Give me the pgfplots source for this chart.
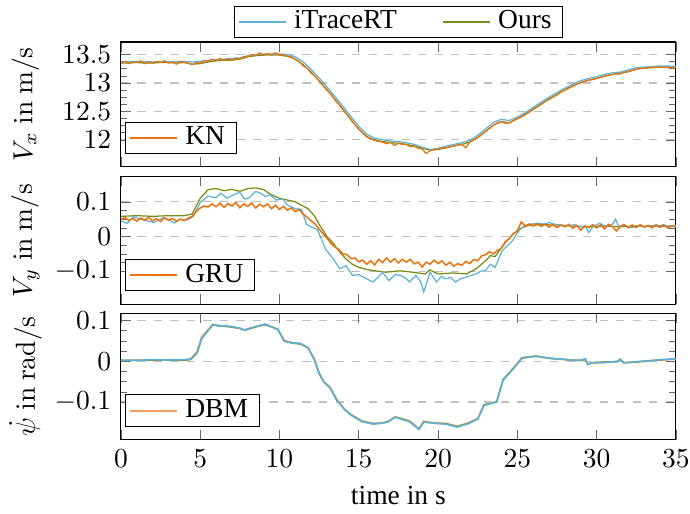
\documentclass[border=0pt]{standalone}
\usepackage[no-math]{fontspec}
\setmainfont{Liberation Serif}
\usepackage{pgfplots}
\pgfplotsset{compat=1.18}
\usepackage{pgfplotstable}

\definecolor{itrc}{RGB}{94,178,216}
\definecolor{oursc}{RGB}{122,140,22}
\definecolor{knc}{RGB}{234,114,16}
\definecolor{dbmc}{RGB}{240,160,92}

% ---------------- top panel (V_x) ----------------
\pgfplotstableread{
t itr ours
0 13.37 13.35
0.5 13.38 13.35
1 13.38 13.36
1.5 13.38 13.35
2 13.37 13.35
2.5 13.38 13.36
3 13.38 13.36
3.5 13.38 13.35
4 13.38 13.36
4.5 13.37 13.33
5 13.38 13.34
5.5 13.40 13.37
6 13.41 13.39
6.5 13.42 13.40
7 13.43 13.40
7.5 13.44 13.42
8 13.48 13.46
8.5 13.50 13.48
9 13.51 13.49
9.5 13.51 13.49
10 13.51 13.49
10.5 13.50 13.47
11 13.46 13.42
11.5 13.37 13.32
12 13.24 13.19
12.5 13.09 13.04
13 12.93 12.88
13.5 12.76 12.71
14 12.59 12.54
14.5 12.41 12.36
15 12.24 12.19
15.5 12.10 12.06
16 12.03 12.00
16.5 12.00 11.97
17 11.98 11.95
17.5 11.97 11.94
18 11.95 11.92
18.5 11.92 11.89
19 11.87 11.85
19.5 11.83 11.82
20 11.85 11.83
20.5 11.89 11.86
21 11.92 11.89
21.5 11.95 11.92
22 11.99 11.96
22.5 12.08 12.04
23 12.19 12.15
23.5 12.31 12.26
24 12.36 12.32
24.5 12.34 12.30
25 12.40 12.37
25.5 12.48 12.45
26 12.57 12.54
26.5 12.66 12.63
27 12.75 12.72
27.5 12.83 12.80
28 12.91 12.88
28.5 12.98 12.95
29 13.04 13.01
29.5 13.08 13.05
30 13.11 13.08
30.5 13.15 13.12
31 13.18 13.15
31.5 13.19 13.17
32 13.23 13.20
32.5 13.27 13.24
33 13.28 13.26
33.5 13.29 13.27
34 13.30 13.28
34.5 13.30 13.28
35 13.29 13.27
}\vxtab

\pgfplotstableread{
t y
0 13.35
0.25 13.38
0.5 13.34
0.75 13.37
1 13.36
1.25 13.39
1.5 13.34
1.75 13.37
2 13.35
2.25 13.38
2.5 13.36
2.75 13.39
3 13.35
3.25 13.37
3.5 13.33
3.75 13.38
4 13.36
4.25 13.35
4.5 13.32
4.75 13.36
5 13.35
5.25 13.39
5.5 13.38
5.75 13.42
6 13.39
6.25 13.43
6.5 13.40
6.75 13.42
7 13.40
7.25 13.44
7.5 13.42
7.75 13.46
8 13.47
8.25 13.50
8.5 13.48
8.75 13.53
9 13.49
9.25 13.52
9.5 13.49
9.75 13.53
10 13.50
10.25 13.49
10.5 13.47
10.75 13.46
11 13.41
11.25 13.38
11.5 13.30
11.75 13.26
12 13.17
12.25 13.12
12.5 13.03
12.75 12.95
13 12.87
13.25 12.80
13.5 12.70
13.75 12.62
14 12.53
14.25 12.45
14.5 12.35
14.75 12.27
15 12.19
15.25 12.12
15.5 12.05
15.75 12.02
16 11.99
16.25 11.97
16.5 11.96
16.75 11.93
17 11.96
17.25 11.90
17.5 11.94
17.75 11.92
18 11.92
18.25 11.88
18.5 11.89
18.75 11.85
19 11.84
19.25 11.76
19.5 11.81
19.75 11.83
20 11.83
20.25 11.86
20.5 11.86
20.75 11.88
21 11.89
21.25 11.91
21.5 11.92
21.75 11.86
22 11.96
22.25 12.00
22.5 12.04
22.75 12.09
23 12.15
23.25 12.20
23.5 12.26
23.75 12.30
24 12.32
24.25 12.29
24.5 12.30
24.75 12.34
25 12.37
25.25 12.40
25.5 12.44
25.75 12.49
26 12.53
26.25 12.58
26.5 12.62
26.75 12.67
27 12.71
27.25 12.75
27.5 12.79
27.75 12.84
28 12.87
28.25 12.91
28.5 12.94
28.75 12.98
29 13.00
29.25 13.03
29.5 13.05
29.75 13.06
30 13.08
30.25 13.10
30.5 13.12
30.75 13.14
31 13.15
31.25 13.16
31.5 13.16
31.75 13.19
32 13.20
32.25 13.22
32.5 13.24
32.75 13.26
33 13.26
33.25 13.27
33.5 13.27
33.75 13.28
34 13.28
34.25 13.27
34.5 13.28
34.75 13.26
35 13.27
}\kntab

% ---------------- middle panel (V_y) ----------------
\pgfplotstableread{
t y
0 0.045
0.4 0.038
0.8 0.057
1.2 0.050
1.5 0.047
2.1 0.040
2.5 0.050
2.7 0.054
3.1 0.046
3.4 0.039
3.7 0.050
4.0 0.047
4.3 0.050
4.6 0.060
5.0 0.098
5.5 0.116
6.0 0.112
6.3 0.125
6.7 0.110
7.1 0.120
7.5 0.127
7.8 0.108
8.1 0.112
8.5 0.130
8.8 0.125
9.1 0.115
9.4 0.120
9.8 0.105
10.2 0.108
10.5 0.090
11.0 0.080
11.4 0.078
11.7 0.035
12.0 0.028
12.4 0.020
12.9 -0.036
13.4 -0.065
13.8 -0.093
14.2 -0.084
14.6 -0.112
15.0 -0.110
15.5 -0.122
15.9 -0.131
16.2 -0.118
16.5 -0.103
16.9 -0.127
17.3 -0.110
17.6 -0.112
17.9 -0.118
18.2 -0.131
18.6 -0.112
18.9 -0.130
19.1 -0.160
19.5 -0.103
19.9 -0.131
20.2 -0.115
20.5 -0.122
20.8 -0.118
21.1 -0.131
21.5 -0.120
21.8 -0.117
22.1 -0.112
22.4 -0.108
22.7 -0.100
23.0 -0.098
23.3 -0.080
23.6 -0.089
24.05 -0.041
24.4 -0.025
24.7 -0.012
25.0 0.010
25.3 0.026
25.6 0.033
25.9 0.036
26.3 0.038
26.7 0.036
27.0 0.040
27.4 0.035
27.8 0.033
28.2 0.030
28.6 0.034
29.0 0.028
29.3 0.030
29.5 0.011
29.8 0.030
30.2 0.038
30.6 0.028
31.0 0.035
31.2 0.050
31.4 0.028
31.8 0.032
32.2 0.026
32.6 0.030
33.0 0.028
33.4 0.032
33.8 0.030
34.2 0.034
34.6 0.028
35 0.032
}\vyitr

\pgfplotstableread{
t y
0 0.058
1 0.060
2 0.058
3 0.060
4 0.060
4.5 0.065
5.0 0.110
5.5 0.135
6.0 0.138
6.5 0.132
7.0 0.136
7.5 0.130
8.0 0.138
8.5 0.140
9.0 0.135
9.5 0.120
10.0 0.110
10.5 0.105
11.0 0.100
11.3 0.092
11.8 0.080
12.2 0.060
12.5 0.035
13.0 0.000
13.4 -0.020
13.8 -0.045
14.2 -0.065
14.6 -0.080
15.0 -0.089
15.5 -0.095
15.9 -0.098
16.7 -0.103
17.6 -0.099
18.4 -0.103
19.2 -0.108
19.5 -0.096
19.8 -0.104
20.1 -0.108
20.9 -0.105
21.8 -0.108
22.4 -0.093
23.0 -0.070
23.3 -0.055
23.6 -0.058
24.2 -0.020
24.7 0.005
25.1 0.021
25.7 0.032
26.5 0.034
27.5 0.033
28.5 0.030
29.5 0.027
30.5 0.030
31.5 0.028
32.5 0.030
33.5 0.029
34.5 0.030
35 0.030
}\vyours

\pgfplotstableread{
t y
0 0.048
0.25 0.055
0.5 0.046
0.75 0.052
1 0.044
1.25 0.053
1.5 0.047
1.75 0.055
2 0.045
2.25 0.051
2.5 0.043
2.75 0.054
3 0.047
3.25 0.052
3.5 0.044
3.75 0.050
4 0.046
4.25 0.053
4.5 0.058
4.75 0.072
5 0.082
5.25 0.088
5.5 0.085
5.75 0.094
6 0.086
6.25 0.096
6.5 0.084
6.75 0.095
7 0.088
7.25 0.098
7.5 0.083
7.75 0.094
8 0.087
8.25 0.097
8.5 0.082
8.75 0.093
9 0.086
9.25 0.094
9.5 0.080
9.75 0.090
10 0.078
10.25 0.087
10.5 0.076
10.75 0.082
11 0.072
11.25 0.078
11.5 0.064
11.75 0.055
12 0.045
12.25 0.036
12.5 0.021
12.75 0.008
13 -0.005
13.25 -0.020
13.5 -0.030
13.75 -0.038
14 -0.050
14.25 -0.052
14.5 -0.064
14.75 -0.062
15 -0.073
15.25 -0.068
15.5 -0.080
15.75 -0.070
16 -0.082
16.25 -0.066
16.5 -0.075
16.75 -0.062
17 -0.074
17.25 -0.064
17.5 -0.076
17.75 -0.066
18 -0.074
18.25 -0.066
18.5 -0.079
18.75 -0.074
19 -0.088
19.25 -0.074
19.5 -0.080
19.75 -0.068
20 -0.078
20.25 -0.070
20.5 -0.083
20.75 -0.074
21 -0.086
21.25 -0.078
21.5 -0.083
21.75 -0.072
22 -0.078
22.25 -0.066
22.5 -0.070
22.75 -0.056
23 -0.052
23.25 -0.044
23.5 -0.050
23.75 -0.040
24 -0.034
24.25 -0.015
24.5 -0.006
24.75 0.008
25 0.016
25.25 0.042
25.5 0.030
25.75 0.036
26 0.030
26.25 0.037
26.5 0.029
26.75 0.035
27 0.027
27.25 0.034
27.5 0.026
27.75 0.033
28 0.028
28.25 0.035
28.5 0.024
28.75 0.032
29 0.018
29.25 0.030
29.5 0.026
29.75 0.034
30 0.025
30.25 0.033
30.5 0.022
30.75 0.035
31 0.028
31.25 0.016
31.5 0.030
31.75 0.034
32 0.025
32.25 0.033
32.5 0.026
32.75 0.034
33 0.027
33.25 0.032
33.5 0.025
33.75 0.034
34 0.026
34.25 0.033
34.5 0.024
34.75 0.031
35 0.028
}\grutab

% ---------------- bottom panel (yaw rate) ----------------
\pgfplotstableread{
t dbm ours itr
0 0.002 0.001 0.003
1 0.003 0.002 0.002
2 0.002 0.003 0.004
3 0.004 0.003 0.003
4 0.003 0.002 0.004
4.4 0.006 0.004 0.005
4.8 0.024 0.019 0.020
5.1 0.060 0.055 0.056
5.5 0.078 0.075 0.076
5.8 0.090 0.089 0.090
6.2 0.087 0.086 0.087
6.6 0.085 0.087 0.086
7.0 0.084 0.083 0.085
7.5 0.080 0.081 0.081
7.8 0.077 0.076 0.076
8.2 0.082 0.080 0.081
8.6 0.086 0.085 0.086
9.1 0.090 0.089 0.091
9.5 0.085 0.084 0.084
9.9 0.077 0.079 0.078
10.3 0.051 0.050 0.049
10.8 0.046 0.044 0.045
11.3 0.043 0.042 0.044
11.8 0.034 0.033 0.033
12.2 0.006 0.003 0.004
12.5 -0.028 -0.031 -0.030
12.8 -0.050 -0.051 -0.050
13.2 -0.064 -0.066 -0.065
13.6 -0.092 -0.095 -0.094
14.1 -0.117 -0.118 -0.118
14.5 -0.130 -0.132 -0.131
15.2 -0.146 -0.148 -0.147
15.9 -0.152 -0.153 -0.154
16.4 -0.151 -0.152 -0.152
16.8 -0.148 -0.149 -0.149
17.3 -0.136 -0.137 -0.137
17.7 -0.140 -0.141 -0.142
18.2 -0.146 -0.147 -0.148
18.8 -0.165 -0.166 -0.167
19.1 -0.147 -0.148 -0.149
19.8 -0.151 -0.152 -0.152
20.5 -0.152 -0.153 -0.154
21.2 -0.159 -0.160 -0.161
21.9 -0.151 -0.152 -0.153
22.5 -0.140 -0.142 -0.142
22.9 -0.107 -0.106 -0.108
23.3 -0.103 -0.104 -0.104
23.7 -0.098 -0.100 -0.100
24.1 -0.046 -0.044 -0.047
24.6 -0.023 -0.024 -0.025
25.3 0.008 0.009 0.007
25.7 0.010 0.011 0.010
26.2 0.012 0.013 0.012
26.8 0.008 0.009 0.009
27.3 0.006 0.007 0.006
28.0 0.004 0.004 0.005
28.5 0.002 0.003 0.002
29.0 0.002 0.002 0.003
29.3 0.005 0.004 0.006
29.45 -0.008 -0.007 -0.008
29.7 -0.004 -0.003 -0.004
30.5 -0.003 -0.002 -0.003
31.3 -0.001 0.000 -0.001
31.5 0.004 0.005 0.005
31.7 -0.004 -0.003 -0.004
32.5 -0.002 -0.002 -0.001
33.1 0.000 0.001 0.000
34 0.003 0.003 0.004
35 0.006 0.005 0.006
}\yawtab

\pgfplotsset{
  panel/.style={
    scale only axis, width=201.7pt,
    xmin=0, xmax=35, xtick={0,5,...,35},
    ymajorgrids, major grid style={dashed, black!25, line width=0.45pt},
    minor y tick num=3,
    tick style={black!60},
    major tick length=3.6pt, minor tick length=2.4pt,
    ylabel style={at={(axis description cs:-0.172,0.5)}, anchor=center},
    legend style={at={(0.007,0.1)}, anchor=south west, draw=black, fill=white,
      inner xsep=1.5pt, inner ysep=0.5pt,
      nodes={inner xsep=2.5pt, inner ysep=1.2pt}},
    legend cell align=left,
  },
  itrstyle/.style={color=itrc, line width=0.45pt},
  oursstyle/.style={color=oursc, line width=0.45pt},
}

\begin{document}
\begin{tikzpicture}
% top legend (hidden axis)
\begin{axis}[
  at={(0,99.25pt)}, scale only axis, width=201.7pt, height=45.25pt,
  hide axis, xmin=0, xmax=1, ymin=0, ymax=1,
  legend columns=2,
  legend style={at={(0.5,1.03)}, anchor=south, draw=black, fill=white,
    inner xsep=1.5pt, inner ysep=0.5pt,
    nodes={inner xsep=2.5pt, inner ysep=1.2pt},
    /tikz/every even column/.append style={column sep=14pt}},
]
\addlegendimage{draw=itrc, line width=0.75pt}
\addlegendentry{iTraceRT}
\addlegendimage{draw=oursc, line width=0.75pt}
\addlegendentry{Ours}
\end{axis}

% top panel
\begin{axis}[panel, at={(0,99.25pt)}, height=45.25pt,
  ymin=11.53, ymax=13.72, ytick={12,12.5,13,13.5},
  xticklabels={},
  ylabel={$V_x\ \mathrm{in}\ \mathrm{m/s}$},
]
\addplot[oursstyle, forget plot] table[x=t, y=ours] {\vxtab};
\addplot[itrstyle, forget plot] table[x=t, y=itr] {\vxtab};
\addplot[color=knc, line width=0.45pt, forget plot] table[x=t, y=y] {\kntab};
\addlegendimage{draw=knc, line width=0.75pt}
\addlegendentry{KN}
\end{axis}

% middle panel
\begin{axis}[panel, at={(0,49.25pt)}, height=46.4pt,
  ymin=-0.195, ymax=0.173, ytick={-0.1,0,0.1},
  xticklabels={},
  ylabel={$V_y\ \mathrm{in}\ \mathrm{m/s}$},
]
\addplot[oursstyle, forget plot] table[x=t, y=y] {\vyours};
\addplot[itrstyle, forget plot] table[x=t, y=y] {\vyitr};
\addplot[color=knc, line width=0.55pt, forget plot] table[x=t, y=y] {\grutab};
\addlegendimage{draw=knc, line width=0.75pt}
\addlegendentry{GRU}
\end{axis}

% bottom panel
\begin{axis}[panel, at={(0,0)}, height=46pt,
  ymin=-0.192, ymax=0.118, ytick={-0.1,0,0.1},
  ylabel={$\dot{\psi}\ \mathrm{in}\ \mathrm{rad/s}$},
  xlabel={time in s},
]
\addplot[color=dbmc, line width=0.6pt, forget plot] table[x=t, y=dbm] {\yawtab};
\addplot[oursstyle, forget plot] table[x=t, y=ours] {\yawtab};
\addplot[itrstyle, line width=0.6pt, forget plot] table[x=t, y=itr] {\yawtab};
\addlegendimage{draw=dbmc, line width=0.75pt}
\addlegendentry{DBM}
\end{axis}

\coordinate (BBSW) at (current bounding box.south west);
\coordinate (BBNE) at (current bounding box.north east);
\pgfresetboundingbox
\path[use as bounding box] (BBSW) rectangle ([xshift=-3.2pt, yshift=2pt]BBNE);
\end{tikzpicture}
\end{document}
